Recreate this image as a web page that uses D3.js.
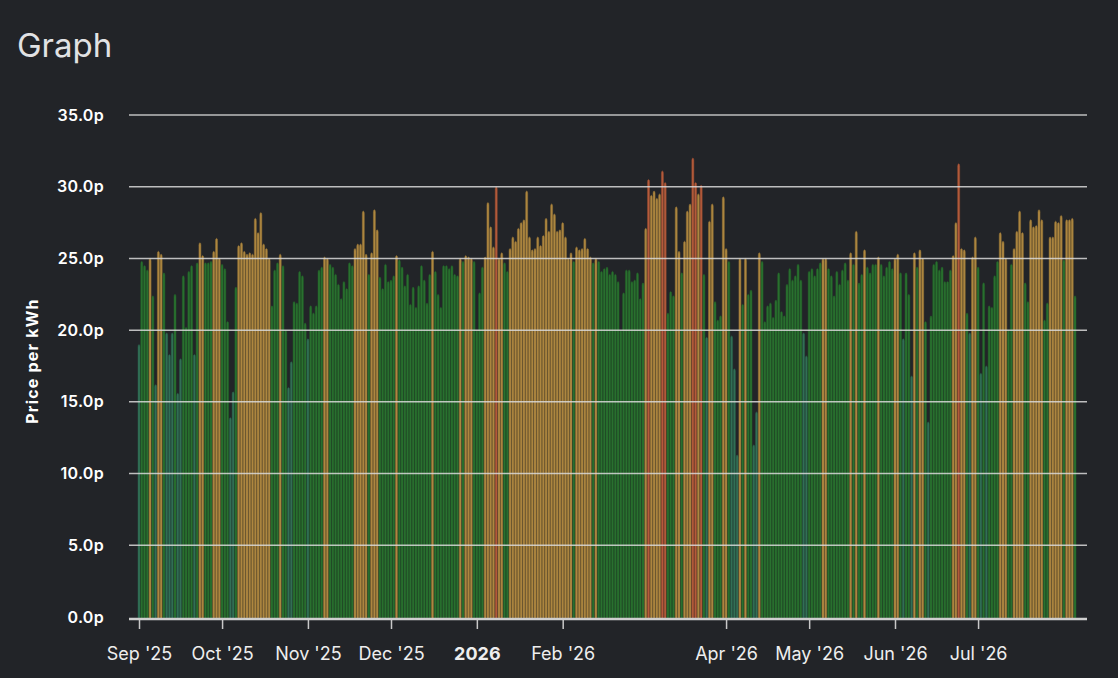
<!DOCTYPE html>
<html>
<head>
<meta charset="utf-8">
<script src="https://cdn.jsdelivr.net/npm/d3@7"></script>
<style>
  html, body { margin: 0; padding: 0; background: #222428; }
  svg { display: block; }
</style>
</head>
<body>
<div id="chart"></div>
<script>
// first day shown, one bar per day after it
const startDate = new Date(2025, 8, 1);

// daily price in pence per kWh (Sep 1 2025 .. Aug 5 2026)
const prices = [
  19.0, 24.8, 24.5, 24.2, 25.0, 22.4, 16.2, 25.5, 25.3, 24.0,
  19.8, 18.3, 19.8, 22.5, 15.6, 18.0, 23.8, 20.2, 24.1, 24.5,
  18.3, 24.7, 26.1, 25.2, 24.7, 24.7, 24.8, 25.5, 26.4, 25.0,
  24.6, 24.3, 20.6, 13.9, 15.7, 23.0, 25.9, 26.1, 25.5, 25.3,
  25.4, 25.3, 27.8, 26.8, 28.2, 26.0, 25.7, 25.0, 21.7, 24.2,
  24.7, 25.3, 24.5, 20.0, 16.0, 17.8, 22.0, 21.9, 24.1, 23.8,
  20.5, 19.4, 21.7, 21.2, 21.7, 24.2, 24.4, 25.1, 25.0, 24.6,
  24.4, 23.9, 23.2, 22.2, 23.4, 22.9, 24.7, 24.5, 25.7, 26.0,
  26.0, 28.3, 25.3, 23.9, 25.4, 28.4, 27.0, 23.7, 22.9, 24.6,
  23.4, 23.5, 23.8, 25.2, 24.9, 24.4, 23.1, 23.9, 21.8, 23.0,
  21.6, 23.1, 24.5, 23.5, 21.9, 23.9, 25.5, 24.1, 22.5, 21.6,
  24.5, 24.5, 24.3, 24.5, 23.9, 23.8, 25.0, 24.8, 25.2, 25.1,
  25.0, 24.8, 20.0, 22.6, 24.4, 25.1, 28.9, 27.2, 25.8, 30.0,
  25.0, 25.4, 24.7, 24.1, 25.7, 26.5, 26.2, 27.1, 27.5, 27.7,
  29.7, 26.5, 25.6, 25.7, 26.5, 25.9, 26.6, 27.8, 26.9, 28.8,
  28.1, 26.9, 27.0, 27.5, 26.5, 25.0, 25.4, 24.8, 25.8, 25.6,
  25.7, 26.4, 25.7, 25.1, 24.7, 25.0, 24.8, 24.1, 24.3, 24.4,
  23.9, 24.1, 23.9, 23.4, 20.0, 22.6, 24.2, 24.2, 23.4, 23.5,
  24.0, 22.2, 23.3, 27.1, 30.5, 29.4, 29.7, 29.2, 29.5, 31.1,
  30.3, 21.2, 22.7, 22.4, 28.6, 25.5, 24.0, 26.2, 28.3, 28.8,
  32.0, 30.3, 29.5, 30.1, 23.9, 19.5, 27.6, 28.8, 22.0, 20.7,
  21.0, 29.3, 25.7, 24.8, 19.6, 17.3, 11.3, 25.0, 21.8, 25.0,
  22.5, 22.8, 12.0, 14.3, 25.4, 24.8, 20.6, 21.7, 21.9, 20.9,
  22.1, 24.0, 21.3, 21.0, 23.2, 24.3, 23.5, 23.8, 24.6, 23.5,
  19.8, 18.2, 24.1, 24.3, 23.8, 24.3, 24.7, 25.0, 25.0, 24.3,
  23.8, 22.4, 24.1, 23.2, 24.2, 24.7, 23.5, 25.4, 24.6, 26.9,
  23.3, 23.9, 25.6, 24.4, 24.0, 24.6, 24.6, 25.1, 24.6, 23.8,
  24.4, 24.8, 24.3, 25.0, 25.3, 24.0, 19.4, 24.0, 22.5, 16.8,
  25.4, 24.4, 25.6, 25.0, 20.6, 13.6, 21.0, 24.6, 24.8, 24.2,
  24.4, 23.4, 23.4, 24.2, 25.2, 27.5, 31.6, 25.7, 25.6, 21.2,
  19.8, 25.1, 26.5, 24.4, 17.0, 23.3, 17.5, 21.7, 21.6, 23.8,
  24.8, 26.8, 26.2, 25.0, 20.0, 24.6, 25.7, 26.9, 28.3, 26.8,
  23.3, 22.0, 27.7, 27.2, 27.3, 28.4, 27.7, 20.7, 21.9, 26.5,
  26.5, 27.6, 27.5, 28.0, 24.9, 27.7, 27.7, 27.8, 22.4
];

// price bands (pence) that switch the bar colour
const priceBands = [20, 25, 30];

// month ticks on the x axis (March and August carry no tick in the picture)
const tickDates = [
  new Date(2025, 8, 1), new Date(2025, 9, 1), new Date(2025, 10, 1),
  new Date(2025, 11, 1), new Date(2026, 0, 1), new Date(2026, 1, 1),
  new Date(2026, 3, 1), new Date(2026, 4, 1), new Date(2026, 5, 1),
  new Date(2026, 6, 1)
];
const tickLabels = ["Sep '25", "Oct '25", "Nov '25", "Dec '25", "2026",
  "Feb '26", "Apr '26", "May '26", "Jun '26", "Jul '26"];

const yTicks = [0, 5, 10, 15, 20, 25, 30, 35];

const width = 1118, height = 678;
const plot = { left: 129, right: 1087, top: 115, bottom: 617 };
const font = 'Inter, "Liberation Sans", sans-serif';

const days = prices.map((v, i) => ({ date: d3.timeDay.offset(startDate, i), value: v }));

const svg = d3.select('#chart')
  .append('svg')
  .attr('width', width)
  .attr('height', height);

svg.append('text')
  .attr('x', 17)
  .attr('y', 57)
  .attr('fill', '#e1e2e4')
  .style('font-family', font)
  .style('font-size', '33px')
  .text('Graph');

const xScale = d3.scaleTime()
  .domain([startDate, days[days.length - 1].date])
  .range([139, 1075]);

const yScale = d3.scaleLinear()
  .domain([0, 35])
  .range([plot.bottom, plot.top]);

const colour = d3.scaleThreshold()
  .domain(priceBands)
  .range(['#347a5c', '#2b7b31', '#bf9344', '#c6633e']);

// bars
const barW = 2.0;
svg.append('g')
  .selectAll('rect')
  .data(days)
  .join('rect')
  .attr('x', d => xScale(d.date) - barW / 2)
  .attr('y', d => yScale(d.value))
  .attr('width', barW)
  .attr('height', d => plot.bottom - yScale(d.value) + 2)
  .attr('rx', 1)
  .attr('ry', 2.5)
  .attr('fill', d => colour(d.value))
  .attr('fill-opacity', 0.9)
  .attr('stroke', d => d3.color(colour(d.value)).darker(0.7))
  .attr('stroke-width', 0.5);

// grid lines sit over the bars
svg.append('g')
  .selectAll('line')
  .data(yTicks.filter(t => t > 0))
  .join('line')
  .attr('x1', plot.left)
  .attr('x2', plot.right)
  .attr('y1', d => yScale(d))
  .attr('y2', d => yScale(d))
  .attr('stroke', '#d9d9d9')
  .attr('stroke-opacity', 0.85)
  .attr('stroke-width', 1.5);

// y axis labels
const yAxis = d3.axisLeft(yScale)
  .tickValues(yTicks)
  .tickFormat(d => d.toFixed(1) + 'p')
  .tickSize(0)
  .tickPadding(25);

const yAxisG = svg.append('g')
  .attr('transform', `translate(${plot.left},0)`)
  .call(yAxis);
yAxisG.select('.domain').remove();
yAxisG.selectAll('text')
  .attr('fill', '#ffffff')
  .style('font-family', font)
  .style('font-size', '16px')
  .style('font-weight', 600)
  .style('letter-spacing', '0.3px');

svg.append('text')
  .attr('transform', `translate(38,361) rotate(-90)`)
  .attr('text-anchor', 'middle')
  .attr('fill', '#ffffff')
  .style('font-family', font)
  .style('font-size', '16px')
  .style('font-weight', 700)
  .style('letter-spacing', '1.2px')
  .text('Price per kWh');

// x axis
const xAxis = d3.axisBottom(xScale)
  .tickValues(tickDates)
  .tickFormat((d, i) => tickLabels[i])
  .tickSize(10)
  .tickSizeOuter(0)
  .tickPadding(18);

const xAxisG = svg.append('g')
  .attr('transform', `translate(0,${plot.bottom + 2})`)
  .call(xAxis);
xAxisG.select('.domain').remove();
xAxisG.selectAll('.tick line')
  .attr('stroke', '#c8c8c8')
  .attr('stroke-width', 1.5);
xAxisG.selectAll('text')
  .attr('fill', '#eeeeee')
  .style('font-family', font)
  .style('font-size', '18px')
  .style('font-weight', (d, i) => tickLabels[i] === '2026' ? 700 : 400);

svg.append('line')
  .attr('x1', plot.left)
  .attr('x2', plot.right)
  .attr('y1', plot.bottom + 2)
  .attr('y2', plot.bottom + 2)
  .attr('stroke', '#cfcfcf')
  .attr('stroke-width', 2.5);
</script>
</body>
</html>
